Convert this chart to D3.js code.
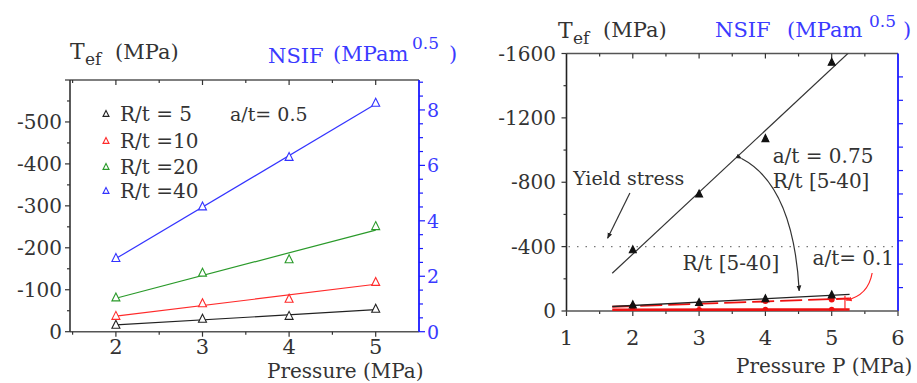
<!DOCTYPE html>
<html><head><meta charset="utf-8">
<script src="https://cdn.jsdelivr.net/npm/d3@7"></script>
<style>body{margin:0;background:#fff}svg{display:block}text{font-family:"DejaVu Serif",serif}</style>
</head><body><svg id="c" width="917" height="383"></svg>
<script>
// ---------- data ----------
const pressureL = [2, 3, 4, 5];
const xTicksL = [2, 3, 4, 5];
const yTicksL = [0, -100, -200, -300, -400, -500];
const nsifTicksL = [0, 2, 4, 6, 8];
const legendLabels = ["R/t = 5", "R/t =10", "R/t =20", "R/t =40"];
const tef_rt5  = [-16, -30, -37, -54];
const tef_rt10 = [-37, -67, -78, -118];
const tef_rt20 = [-81, -140, -172, -251];
const tef_rt40 = [-175, -298, -416, -545];

const pressureR = [2, 3, 4, 5];
const xTicksR = [1, 2, 3, 4, 5, 6];
const yTicksR = [0, -400, -800, -1200, -1600];
const tef_a075 = [-379, -726, -1070, -1545];
const tef_a01_black = [-37, -52, -75, -99];
const tef_a01_red = [-30, -45, -62, -72];
const tef_a01_redBase = [-8, -8, -9, -9];
const yieldStress = -400;
const fitRangeR = [1.69, 5.27];

const svg = d3.select("#c");
const AX = "#333";

function fit(xs, ys) {
  const n = xs.length, mx = d3.mean(xs), my = d3.mean(ys);
  const b = d3.sum(xs, (x, i) => (x - mx) * (ys[i] - my)) / d3.sum(xs, x => (x - mx) ** 2);
  return x => my + b * (x - mx);
}
function tri(g, cx, cy, s, fill, stroke) {
  g.append("path").attr("d", `M${cx},${cy - s * 0.6}L${cx + s / 2},${cy + s * 0.4}L${cx - s / 2},${cy + s * 0.4}Z`)
    .attr("fill", fill).attr("stroke", stroke).attr("stroke-width", 1.1);
}
function ticksAt(lo, hi, step) { const r = []; for (let v = lo; v <= hi + 1e-9; v += step) r.push(+v.toFixed(4)); return r; }

// ---------- LEFT PANEL ----------
{
  const x = d3.scaleLinear().domain([1.47, 5.5]).range([70, 419]);
  const y = d3.scaleLinear().domain([0, -600]).range([331.7, 80]);
  const yb = d3.scaleLinear().domain([0, 9.08]).range([331.7, 80]);
  const g = svg.append("g");

  // frame top & bottom
  g.append("line").attr("x1", 70).attr("x2", 419).attr("y1", 80).attr("y2", 80).attr("stroke", "#555").attr("stroke-width", 1.6);
  g.append("line").attr("x1", 70).attr("x2", 419).attr("y1", 331.7).attr("y2", 331.7).attr("stroke", "#555").attr("stroke-width", 1.6);
  // x ticks bottom (outward) and top (inward)
  ticksAt(1.5, 5.5, 0.5).forEach(v => {
    const major = Number.isInteger(v), px = x(v);
    if (px < 71 || px > 418) return;
    g.append("line").attr("x1", px).attr("x2", px).attr("y1", 331.7).attr("y2", 331.7 + (major ? 5 : 3)).attr("stroke", AX).attr("stroke-width", 1.2);
    g.append("line").attr("x1", px).attr("x2", px).attr("y1", 80).attr("y2", 80 + (major ? 5 : 3)).attr("stroke", AX).attr("stroke-width", 1.2);
  });
  xTicksL.forEach(v => g.append("text").attr("x", x(v)).attr("y", 354).attr("text-anchor", "middle").attr("font-size", 21).attr("fill", "#333").text(v));

  // left axis
  g.append("line").attr("x1", 70).attr("x2", 70).attr("y1", 80).attr("y2", 331.7).attr("stroke", AX).attr("stroke-width", 1.6);
  ticksAt(0, 600, 50).forEach(v => {
    const major = v % 100 === 0;
    g.append("line").attr("x1", 70).attr("x2", 70 - (major ? 5 : 3)).attr("y1", y(-v)).attr("y2", y(-v)).attr("stroke", AX).attr("stroke-width", 1.2);
  });
  yTicksL.forEach(v => g.append("text").attr("x", 62).attr("y", y(v)).attr("dy", "0.36em").attr("text-anchor", "end").attr("font-size", 20).attr("fill", "#333").text(v === 0 ? "0" : "-" + Math.abs(v)));

  // right blue axis
  g.append("line").attr("x1", 419).attr("x2", 419).attr("y1", 80).attr("y2", 331.7).attr("stroke", "#1a1aff").attr("stroke-width", 1.8);
  ticksAt(0, 9, 0.5).forEach(v => {
    const major = Number.isInteger(v) && v % 2 === 0;
    g.append("line").attr("x1", 419).attr("x2", 419 + (major ? 6 : 4)).attr("y1", yb(v)).attr("y2", yb(v)).attr("stroke", "#1a1aff").attr("stroke-width", 1.2);
  });
  nsifTicksL.forEach(v => g.append("text").attr("x", 427).attr("y", yb(v)).attr("dy", "0.36em").attr("font-family", "DejaVu Sans").attr("font-size", 19).attr("fill", "#3a3aff").text(v));

  // series
  const series = [
    { vals: tef_rt5, color: "#222" },
    { vals: tef_rt10, color: "#ff2a2a" },
    { vals: tef_rt20, color: "#2a9a2a" },
    { vals: tef_rt40, color: "#3333ff" }];
  series.forEach(s => {
    const f = fit(pressureL, s.vals);
    g.append("line").attr("x1", x(2)).attr("y1", y(f(2))).attr("x2", x(5)).attr("y2", y(f(5))).attr("stroke", s.color).attr("stroke-width", 1.2);
    pressureL.forEach((p, i) => tri(g, x(p), y(s.vals[i]), 8, "#fff", s.color));
  });

  // legend
  series.forEach((s, i) => {
    const ly = [114, 141, 167, 191][i];
    tri(g, 106, ly, 6, "#fff", s.color);
    g.append("text").attr("x", 120).attr("y", ly + 7).attr("font-size", 20).attr("fill", "#333").text(legendLabels[i]);
  });
  g.append("text").attr("x", 230).attr("y", 121).attr("font-size", 19).attr("fill", "#333").text("a/t= 0.5");

  // titles
  g.append("text").attr("x", 70).attr("y", 59).attr("font-size", 22).attr("fill", "#333").text("T");
  g.append("text").attr("x", 85).attr("y", 65).attr("font-size", 17).attr("fill", "#333").text("ef");
  g.append("text").attr("x", 115).attr("y", 59).attr("font-size", 21).attr("fill", "#333").text("(MPa)");
  g.append("text").attr("x", 268).attr("y", 63).attr("font-size", 21).attr("fill", "#3a3aff").text("NSIF");
  g.append("text").attr("x", 333).attr("y", 61).attr("font-size", 21).attr("fill", "#3a3aff").text("(MPam");
  g.append("text").attr("x", 412).attr("y", 49).attr("font-size", 17).attr("fill", "#3a3aff").text("0.5");
  g.append("text").attr("x", 449).attr("y", 61).attr("font-size", 21).attr("fill", "#3a3aff").text(")");
  g.append("text").attr("x", 267).attr("y", 378).attr("font-size", 20).attr("fill", "#333").text("Pressure (MPa)");
}

// ---------- RIGHT PANEL ----------
{
  const x = d3.scaleLinear().domain([1, 6]).range([566.5, 898]);
  const y = d3.scaleLinear().domain([0, -1600]).range([311, 53.5]);
  const yb = d3.scaleLinear().domain([0, 11]).range([311, 53.5]);
  const g = svg.append("g");
  const L = 566.5, R = 898, T = 53.5, B = 311;

  g.append("line").attr("x1", L).attr("x2", R).attr("y1", T).attr("y2", T).attr("stroke", "#555").attr("stroke-width", 1.6);
  ticksAt(1, 6, 0.5).forEach(v => {
    const major = Number.isInteger(v), px = x(v);
    g.append("line").attr("x1", px).attr("x2", px).attr("y1", B).attr("y2", B + (major ? 5 : 3)).attr("stroke", AX).attr("stroke-width", 1.2);
    if (px > L + 1 && px < R - 1) g.append("line").attr("x1", px).attr("x2", px).attr("y1", T).attr("y2", T + (major ? 5 : 3)).attr("stroke", AX).attr("stroke-width", 1.2);
  });
  xTicksR.forEach(v => g.append("text").attr("x", x(v)).attr("y", 345).attr("text-anchor", "middle").attr("font-size", 21).attr("fill", "#333").text(v));

  g.append("line").attr("x1", L).attr("x2", L).attr("y1", T).attr("y2", B).attr("stroke", "#222").attr("stroke-width", 1.6);
  ticksAt(0, 1600, 200).forEach(v => {
    const major = v % 400 === 0;
    g.append("line").attr("x1", L).attr("x2", L - (major ? 5 : 3)).attr("y1", y(-v)).attr("y2", y(-v)).attr("stroke", AX).attr("stroke-width", 1.2);
  });
  yTicksR.forEach(v => g.append("text").attr("x", 556).attr("y", y(v)).attr("dy", "0.36em").attr("text-anchor", "end").attr("font-size", 20).attr("fill", "#333").text(v === 0 ? "0" : "-" + Math.abs(v)));

  // blue right axis
  g.append("line").attr("x1", R).attr("x2", R).attr("y1", T).attr("y2", B).attr("stroke", "#1a1aff").attr("stroke-width", 1.8);
  ticksAt(1, 10, 1).forEach(v => g.append("line").attr("x1", R).attr("x2", R + 5).attr("y1", yb(v)).attr("y2", yb(v)).attr("stroke", "#1a1aff").attr("stroke-width", 1.2));

  // yield stress dotted
  g.append("line").attr("x1", L + 2).attr("x2", R - 2).attr("y1", y(yieldStress)).attr("y2", y(yieldStress)).attr("stroke", "#777").attr("stroke-width", 1.2).attr("stroke-dasharray", "1.5,7");

  // base axis line (x axis)
  g.append("line").attr("x1", L).attr("x2", R).attr("y1", B).attr("y2", B).attr("stroke", "#555").attr("stroke-width", 1.6);

  const clip = g.append("clipPath").attr("id", "clipR").append("rect").attr("x", L).attr("y", T).attr("width", R - L).attr("height", B - T);
  const pg = g.append("g").attr("clip-path", "url(#clipR)");

  // high series a/t = 0.75
  const fh = fit(pressureR, tef_a075);
  pg.append("line").attr("x1", x(fitRangeR[0])).attr("y1", y(fh(fitRangeR[0]))).attr("x2", x(fitRangeR[1])).attr("y2", y(fh(fitRangeR[1]))).attr("stroke", "#333").attr("stroke-width", 1.2);
  pressureR.forEach((p, i) => tri(pg, x(p), y(tef_a075[i]), 7, "#111", "#111"));

  // low series a/t = 0.1
  const fb = fit(pressureR, tef_a01_redBase);
  pg.append("line").attr("x1", x(fitRangeR[0])).attr("y1", y(fb(fitRangeR[0]))).attr("x2", x(fitRangeR[1])).attr("y2", y(fb(fitRangeR[1]))).attr("stroke", "#ee1111").attr("stroke-width", 2.6);
  pressureR.forEach((p, i) => pg.append("circle").attr("cx", x(p)).attr("cy", y(tef_a01_redBase[i])).attr("r", 2.8).attr("fill", "#ee1111"));
  const fr = fit(pressureR, tef_a01_red);
  pg.append("line").attr("x1", x(fitRangeR[0])).attr("y1", y(fr(fitRangeR[0]))).attr("x2", x(fitRangeR[1])).attr("y2", y(fr(fitRangeR[1]))).attr("stroke", "#ee1111").attr("stroke-width", 1.8).attr("stroke-dasharray", "22,6");
  pressureR.forEach((p, i) => pg.append("circle").attr("cx", x(p)).attr("cy", y(tef_a01_red[i])).attr("r", 3).attr("fill", "#ee1111"));
  const fk = fit(pressureR, tef_a01_black);
  pg.append("line").attr("x1", x(fitRangeR[0])).attr("y1", y(fk(fitRangeR[0]))).attr("x2", x(fitRangeR[1])).attr("y2", y(fk(fitRangeR[1]))).attr("stroke", "#222").attr("stroke-width", 1.3);
  pressureR.forEach((p, i) => tri(pg, x(p), y(tef_a01_black[i]), 7, "#111", "#111"));

  // annotations (placed in data units)
  const ann = (px, py, txt, size) => g.append("text").attr("x", x(px)).attr("y", y(py)).attr("font-size", size).attr("fill", "#333").text(txt);
  ann(1.10, -782, "Yield stress", 19);
  ann(4.11, -919, "a/t = 0.75", 20);
  ann(4.11, -764, "R/t [5-40]", 20);
  ann(2.75, -255, "R/t [5-40]", 20);
  ann(4.71, -286, "a/t= 0.1", 20);

  const defs = svg.append("defs");
  const mk = (id, col) => defs.append("marker").attr("id", id).attr("viewBox", "0 0 10 10").attr("refX", 9).attr("refY", 5)
    .attr("markerWidth", 5).attr("markerHeight", 5).attr("orient", "auto").append("path").attr("d", "M0,1L10,5L0,9Z").attr("fill", col);
  mk("ah", "#222"); mk("ahr", "#ff2222");

  g.append("line").attr("x1", x(1.956)).attr("y1", y(-733)).attr("x2", x(1.62)).attr("y2", y(-452))
    .attr("stroke", "#333").attr("stroke-width", 1.2).attr("marker-end", "url(#ah)");
  g.append("path").attr("d", `M${x(3.64)},${y(-948)} Q${x(4.42)},${y(-780)} ${x(4.51)},${y(-125)}`)
    .attr("fill", "none").attr("stroke", "#333").attr("stroke-width", 1.2).attr("marker-end", "url(#ah)").attr("marker-start", "url(#ah)");
  g.append("path").attr("d", `M${x(5.61)},${y(-236)} Q${x(5.55)},${y(-95)} ${x(5.22)},${y(-68)}`)
    .attr("fill", "none").attr("stroke", "#ff2222").attr("stroke-width", 1.2).attr("marker-end", "url(#ahr)");
  g.append("line").attr("x1", x(5.2)).attr("x2", x(5.2)).attr("y1", y(-95)).attr("y2", y(-8)).attr("stroke", "#ff2222").attr("stroke-width", 1.2);

  // titles
  g.append("text").attr("x", 558).attr("y", 38).attr("font-size", 22).attr("fill", "#333").text("T");
  g.append("text").attr("x", 573).attr("y", 44).attr("font-size", 17).attr("fill", "#333").text("ef");
  g.append("text").attr("x", 603).attr("y", 37).attr("font-size", 21).attr("fill", "#333").text("(MPa)");
  g.append("text").attr("x", 715).attr("y", 37).attr("font-size", 21).attr("fill", "#3a3aff").text("NSIF");
  g.append("text").attr("x", 787).attr("y", 37).attr("font-size", 21).attr("fill", "#3a3aff").text("(MPam");
  g.append("text").attr("x", 869).attr("y", 27).attr("font-size", 17).attr("fill", "#3a3aff").text("0.5");
  g.append("text").attr("x", 903).attr("y", 37).attr("font-size", 21).attr("fill", "#3a3aff").text(")");
  g.append("text").attr("x", 736).attr("y", 373).attr("font-size", 20).attr("fill", "#333").text("Pressure P (MPa)");
}
</script></body></html>
